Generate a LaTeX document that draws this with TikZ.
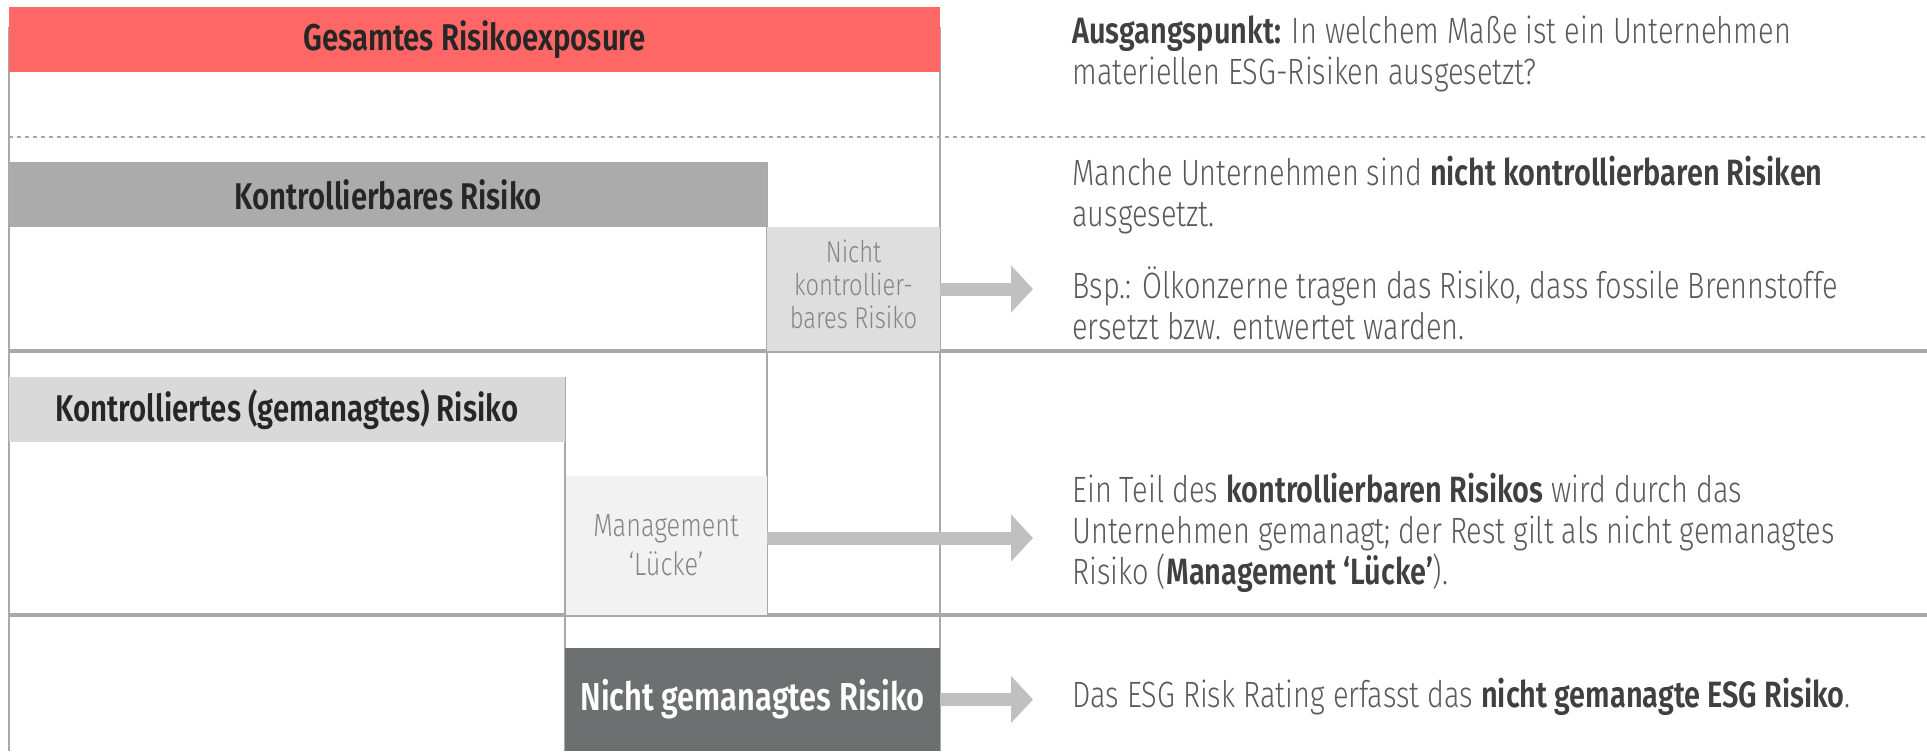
\documentclass[tikz,border=0pt]{standalone}
\usepackage{fontspec}
\setmainfont{Fira Sans}[UprightFont={* Light}, BoldFont={* SemiBold}, FakeStretch=0.79]
\usepackage{tikz}
\usetikzlibrary{arrows.meta, positioning}

\definecolor{riskred}{HTML}{FF6666}
\definecolor{ctrlgray}{HTML}{ABABAB}
\definecolor{nkgray}{HTML}{DEDEDE}
\definecolor{mgdgray}{HTML}{D9D9D9}
\definecolor{gapgray}{HTML}{F2F2F2}
\definecolor{unmgray}{HTML}{6C7070}
\definecolor{linegray}{HTML}{A9A9A9}
\definecolor{arrowgray}{HTML}{C0C0C0}
\definecolor{labeldark}{HTML}{262626}
\definecolor{bodygray}{HTML}{595959}
\definecolor{boldgray}{HTML}{404040}
\definecolor{smallgray}{HTML}{858585}

\begin{document}
\begin{tikzpicture}[x=0.5pt, y=-0.5pt, arro/.style = {-{Triangle[length=11pt, width=23pt]}, line width=6.5pt, draw=arrowgray}]

\tikzstyle{bar} = [inner sep=0, font=\bfseries\fontsize{18.6}{20}\selectfont, text=labeldark]
\tikzstyle{small} = [inner sep=0, align=center, font=\fontsize{15}{16.5}\selectfont, text=smallgray]
\tikzstyle{note} = [inner sep=0, anchor=west, align=left, font=\fontsize{18.3}{20.5}\selectfont, text=bodygray]
\tikzstyle{sep} = [draw=linegray, line width=2pt]
\tikzstyle{col} = [draw=linegray, line width=1pt]

\useasboundingbox (0,0) rectangle (1927,751);

% grid
\draw[col] (9,27) -- (9,751);
\draw[col] (940,27) -- (940,751);
\draw[col] (767,162) -- (767,615);
\draw[col] (565,377) -- (565,751);
\draw[col, dash pattern=on 2pt off 2pt] (9,137) -- (1927,137);
\draw[sep] (9,351) -- (1927,351);
\draw[sep] (9,615) -- (1927,615);

% risk blocks
\node[bar, fill=riskred, minimum width=465.5pt, minimum height=32.5pt] at (474.5,39.5) (tot) {Gesamtes Risikoexposure};
\node[bar, fill=ctrlgray, minimum width=379pt, minimum height=32.5pt] at (388,194.5) (kb) {Kontrollierbares Risiko};
\node[small, fill=nkgray, minimum width=86.5pt, minimum height=62pt] at (853.5,289) (nk) {\raisebox{3pt}{\begin{tabular}{@{}c@{}}Nicht\\kontrollier-\\bares Risiko\end{tabular}}};
\node[bar, fill=mgdgray, minimum width=278pt, minimum height=32.5pt] at (287,409.5) (kt) {Kontrolliertes (gemanagtes) Risiko};
\node[small, fill=gapgray, minimum width=101pt, minimum height=69.5pt, font=\fontsize{16}{19.5}\selectfont] at (666,545.5) (ml) {Management\\‘Lücke’};
\node[bar, fill=unmgray, text=white, minimum width=187.5pt, minimum height=51.5pt, font=\bfseries\fontsize{19.5}{21}\selectfont] at (752.5,699.5) (ng) {Nicht gemanagtes Risiko};
\draw[col] (ml.north west) -- (ml.south west);

% notes
\node[note] at (1072,53.5) (t1) {\textcolor{boldgray}{\textbf{Ausgangspunkt:}} In welchem Maße ist ein Unternehmen\\materiellen ESG-Risiken ausgesetzt?};
\node[note] at (1072,195) (t2) {Manche Unternehmen sind \textcolor{boldgray}{\textbf{nicht kontrollierbaren Risiken}}\\ausgesetzt.};
\node[note] at (1072,303) (t3) {Bsp.: Ölkonzerne tragen das Risiko, dass fossile Brennstoffe\\ersetzt bzw. entwertet warden.};
\node[note] at (1072,533) (t4) {Ein Teil des \textcolor{boldgray}{\textbf{kontrollierbaren Risikos}} wird durch das\\Unternehmen gemanagt; der Rest gilt als nicht gemanagtes\\Risiko (\textcolor{boldgray}{\textbf{Management ‘Lücke’}}).};
\node[note] at (1072,697) (t5) {Das ESG Risk Rating erfasst das \textcolor{boldgray}{\textbf{nicht gemanagte ESG Risiko}}.};

% arrows
\coordinate (a1) at (1033,289);
\coordinate (a2) at (1033,538);
\coordinate (a3) at (1033,699.5);
\draw[arro] (nk.east) -- (a1);
\draw[arro] (ml.east |- a2) -- (a2);
\draw[arro] (ng.east) -- (a3);
\end{tikzpicture}
\end{document}
